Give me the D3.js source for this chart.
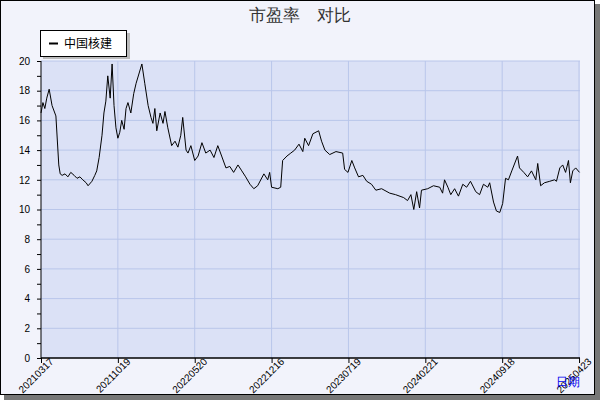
<!DOCTYPE html>
<html><head><meta charset="utf-8">
<script src="https://cdn.jsdelivr.net/npm/d3@7"></script>
<style>body{margin:0}svg{font-family:"DejaVu Sans",sans-serif}</style>
</head><body>
<svg id="c" width="600" height="400"></svg>
<script>
// trading-day index and PE value
var days = [0,4,8,12,17,23,31,37,40,44,50,56,62,69,75,81,87,94,98,106,112,116,121,127,131,135,139,144,148,152,156,160,164,168,173,177,181,187,193,198,210,216,223,229,233,237,241,248,254,258,264,272,279,285,291,295,302,306,312,320,327,335,343,352,360,368,376,385,393,401,410,418,426,435,443,451,464,472,476,480,493,499,503,512,520,528,537,545,549,557,566,578,584,591,601,614,628,632,639,647,653,661,670,678,688,697,709,726,738,755,763,770,776,782,788,792,805,817,830,836,840,847,853,861,869,878,886,894,905,913,921,930,934,942,948,955,961,967,973,980,992,996,1005,1013,1021,1030,1034,1040,1048,1059,1069,1073,1080,1086,1092,1098,1102,1107,1113,1121];
var pe = [16.5,17.2,16.8,17.5,18.1,17.0,16.3,13.0,12.4,12.3,12.4,12.2,12.5,12.3,12.1,12.2,12.0,11.8,11.6,11.9,12.3,12.6,13.5,15.0,16.5,17.3,19.0,17.5,19.8,17.0,15.5,14.8,15.2,16.0,15.4,16.8,17.2,16.5,17.8,18.5,19.8,18.5,17.0,16.2,15.8,16.8,15.3,16.5,15.8,16.6,15.5,14.3,14.6,14.2,15.0,16.2,14.0,13.8,14.3,13.3,13.6,14.5,13.8,14.0,13.5,14.3,13.6,12.8,12.9,12.5,13.0,12.6,12.2,11.7,11.4,11.6,12.4,12.0,12.5,11.5,11.4,11.5,13.3,13.6,13.8,14.0,14.4,13.9,14.8,14.3,15.1,15.3,14.6,14.0,13.7,13.9,13.8,12.7,12.5,13.3,12.8,12.2,12.3,11.9,11.7,11.3,11.4,11.1,11.0,10.8,10.6,11.0,10.0,11.2,10.1,11.3,11.4,11.6,11.5,11.1,12.0,11.5,11.0,11.4,10.9,11.7,11.5,11.9,11.2,11.0,11.7,11.5,11.8,10.5,9.9,9.8,10.4,12.1,12.0,12.6,13.6,12.8,12.5,12.2,12.6,12.0,13.1,11.6,11.8,11.9,12.0,11.9,12.8,13.0,12.5,13.3,11.8,12.6,12.8,12.5];
var tickDays = [0,160,320,480,640,800,960,1120];
var tickLabels = ['20210317','20211019','20220520','20221216','20230719','20240221','20240918','20250423'];
var yTicks = [0,2,4,6,8,10,12,14,16,18,20];

var svg = d3.select('#c');
svg.append('rect').attr('x',4).attr('y',4).attr('width',596).attr('height',396).attr('fill','#777');
svg.append('rect').attr('x',0.5).attr('y',0.5).attr('width',594).attr('height',394)
    .attr('fill','#f2f3fb').attr('stroke','#000');

var L = 41, R = 580, T = 61, B = 358;
var x = d3.scaleLinear().domain([0,1122]).range([L,R]);
var y = d3.scaleLinear().domain([0,20]).range([B,T]);

svg.append('rect').attr('x',L).attr('y',T).attr('width',R-L).attr('height',B-T).attr('fill','#dbe1f6');

var g = svg.append('g');
g.selectAll('.hg').data(yTicks.slice(1)).enter().append('line')
    .attr('x1',L).attr('x2',R).attr('y1',d=>y(d)).attr('y2',d=>y(d))
    .attr('stroke','#b9c6ea');
g.selectAll('.vg').data(tickDays.slice(1)).enter().append('line')
    .attr('y1',T).attr('y2',B).attr('x1',d=>x(d)).attr('x2',d=>x(d))
    .attr('stroke','#b9c6ea');

var line = d3.line().x((d,i)=>x(days[i])).y(d=>y(d));
svg.append('path').datum(pe).attr('d',line).attr('fill','none').attr('stroke','#000').attr('stroke-width',1);

// axes
svg.append('g').attr('transform','translate('+L+',0)')
    .call(d3.axisLeft(y).ticks(20).tickSize(4).tickFormat(d=>d%2===0?d:''))
    .call(a=>a.select('.domain').attr('d','M0,'+T+'V'+B))
    .call(a=>a.selectAll('text').attr('font-size',10).attr('fill','#000').attr('dx',-4));

var xa = svg.append('g').attr('transform','translate(0,'+B+')')
    .call(d3.axisBottom(x).tickValues(tickDays).tickSize(5).tickFormat((d,i)=>tickLabels[i]))
    .call(a=>a.select('.domain').attr('d','M'+L+',0H'+R).attr('stroke-width',1.5));
xa.selectAll('text').attr('font-size',10).attr('fill','#000')
    .attr('text-anchor','end').attr('dy',0).attr('y',12).attr('x',6)
    .attr('transform','rotate(-45)');

svg.append('text').attr('x',300).attr('y',21).attr('text-anchor','middle')
    .attr('font-size',17).attr('fill','#333').attr('xml:space','preserve').text('市盈率　对比');
svg.append('text').attr('x',556).attr('y',386).attr('font-size',12).attr('fill','#0000ee').text('日期');

// legend
svg.append('rect').attr('x',43).attr('y',33).attr('width',87).attr('height',26).attr('fill','#bbb');
svg.append('rect').attr('x',40.5).attr('y',30.5).attr('width',86).attr('height',26).attr('fill','#fff').attr('stroke','#000');
svg.append('line').attr('x1',49).attr('x2',58).attr('y1',43.5).attr('y2',43.5).attr('stroke','#000').attr('stroke-width',2);
svg.append('text').attr('x',64).attr('y',48).attr('font-size',12).attr('font-family','Noto Sans CJK SC').text('中国核建');
</script>
</body></html>
